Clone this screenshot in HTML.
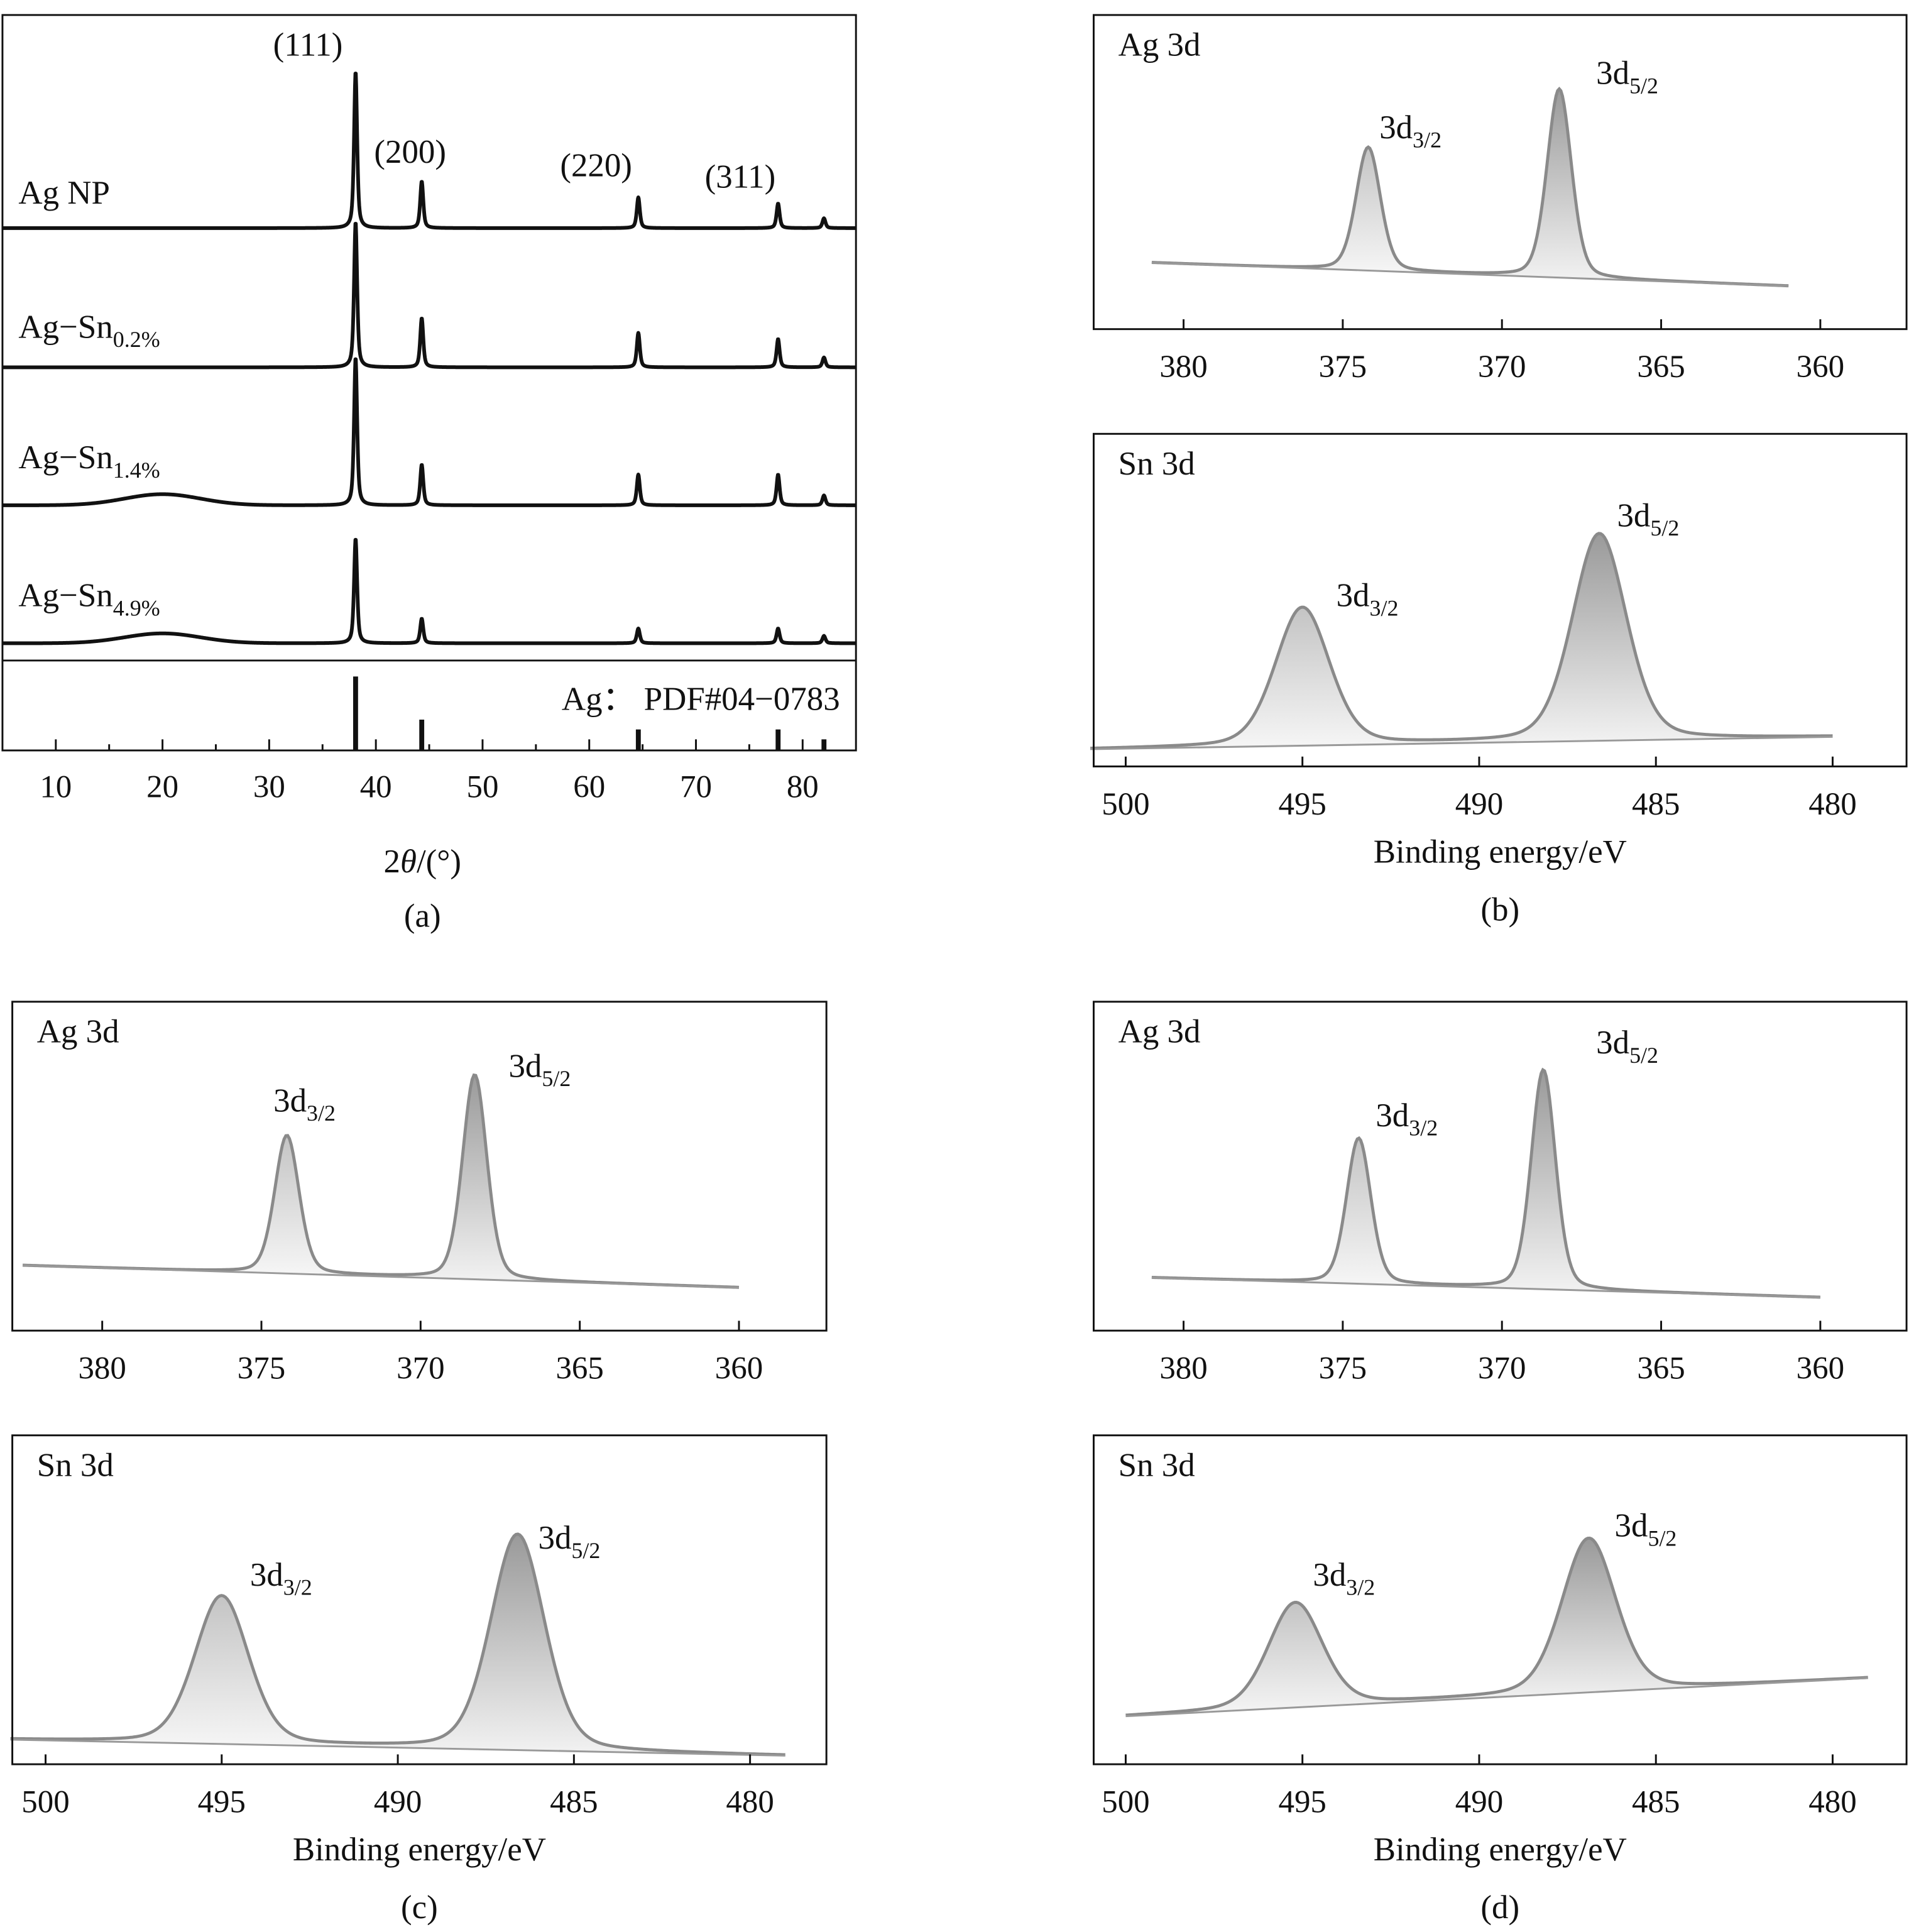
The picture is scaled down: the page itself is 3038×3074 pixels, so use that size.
<!DOCTYPE html>
<html><head><meta charset="utf-8"><style>
html,body{margin:0;padding:0;background:#fff}
svg{display:block}
text{font-family:"Liberation Serif",serif;fill:#111}
</style></head><body>
<svg id="fig" width="3038" height="3074" viewBox="0 0 1550 1568" xmlns="http://www.w3.org/2000/svg">
<defs>
<linearGradient id="gPeak" x1="0" y1="0" x2="0" y2="1"><stop offset="0" stop-color="#9a9a9a"/><stop offset="1" stop-color="#f2f2f2"/></linearGradient>
<linearGradient id="gPeakL" x1="0" y1="0" x2="0" y2="1"><stop offset="0" stop-color="#c4c4c4"/><stop offset="1" stop-color="#f6f6f6"/></linearGradient>
</defs>
<g id="root"></g>
</svg>
<script>
// ---- XRD data (panel a) ----
var xrdPeakPos = [38.1, 44.3, 64.6, 77.7, 82.0];
var xrdNames = ["Ag NP","Ag-Sn0.2","Ag-Sn1.4","Ag-Sn4.9"];
var xrdHeightsNP = [127, 38, 25, 20, 8];
var xrdHeights02 = [118, 40, 28, 23, 8];
var xrdHeights14 = [120, 33, 25, 25, 8];
var xrdHeights49 = [85, 20, 12, 12, 6];
var xrdHump = [0, 0, 9, 8];
var pdfPos = [38.1, 44.3, 64.6, 77.7, 82.0];
var pdfInt = [60, 25, 17, 17, 9];
var xrdTicks = [10,20,30,40,50,60,70,80];

// ---- XPS data ----
var agB_pos = [374.2, 368.2];   var agB_h = [100, 153];
var snB_pos = [495.0, 486.6];   var snB_h = [112, 168];
var agC_pos = [374.2, 368.3];   var agC_h = [112, 166];
var snC_pos = [495.0, 486.6];   var snC_h = [120, 175];
var agD_pos = [374.5, 368.7];   var agD_h = [118, 178];
var snD_pos = [495.2, 486.9];   var snD_h = [85, 125];
var agTicks = [380,375,370,365,360];
var snTicks = [500,495,490,485,480];

var NS="http://www.w3.org/2000/svg";
var root=null;
function mk(tag,attrs,parent){var e=document.createElementNS(NS,tag);for(var k in attrs)e.setAttribute(k,attrs[k]);(parent||root).appendChild(e);return e;}
function txt(s,x,y,size,anchor,parent,sub){var t=mk('text',{x:x,y:y,'font-size':size,'text-anchor':anchor||'start'},parent);t.appendChild(document.createTextNode(s));if(sub){var ts=mk('tspan',{'font-size':size*0.68,dy:size*0.28},t);ts.appendChild(document.createTextNode(sub));}return t;}
function pv(x,c,w,eta){if(eta===undefined)eta=0.6;var d=(x-c)/w;return eta/(1+d*d)+(1-eta)*Math.exp(-0.693*d*d);}

function drawXRD(){
  var g=mk('g',{});
  
  
  var X0=2,X1=695,Y0=12,Y1=609,d0=5,d1=85;
  function sx(v){return X0+(v-d0)/(d1-d0)*(X1-X0);}
  var heights=[xrdHeightsNP,xrdHeights02,xrdHeights14,xrdHeights49];
  var bases=[185,298,410,522];
  heights.forEach(function(hs,i){
    var p='';
    for(var v=d0;v<=d1;v+=0.04){
      var y=bases[i];
      for(var j=0;j<xrdPeakPos.length;j++){y-=hs[j]*pv(v,xrdPeakPos[j],0.17);}
      y-=xrdHump[i]*Math.exp(-Math.pow((v-20)/5,2));
      p+=(p?'L':'M')+sx(v).toFixed(2)+' '+y.toFixed(2);
    }
    var path=mk('path',{d:p,fill:'none',stroke:'#111','stroke-width':3,'stroke-linejoin':'round'},g);
    
    
  });
  pdfPos.forEach(function(c,j){
    var l=mk('line',{x1:sx(c),x2:sx(c),y1:Y1,y2:Y1-pdfInt[j],stroke:'#111','stroke-width':4},g);
    
    
  });
  mk('line',{x1:X0,x2:X1,y1:536,y2:536,stroke:'#111','stroke-width':1.5},g);
  var box=mk('rect',{x:X0,y:Y0,width:X1-X0,height:Y1-Y0,fill:'none',stroke:'#111','stroke-width':1.5},g);
  
  
  for(var v=10;v<=80;v+=5){mk('line',{x1:sx(v),x2:sx(v),y1:Y1,y2:Y1-(v%10?5:9),stroke:'#111','stroke-width':1.5},g);}
  xrdTicks.forEach(function(v){var t=txt(String(v),sx(v),647,26,'middle',g);});
  [['(111)',250,45],['(200)',333,132],['(220)',484,143],['(311)',601,152]].forEach(function(a){var t=txt(a[0],a[1],a[2],27,'middle',g);});
  txt('Ag NP',15,165,27,'start',g);
  txt('Ag\u2212Sn',15,274,27,'start',g,'0.2%');
  txt('Ag\u2212Sn',15,380,27,'start',g,'1.4%');
  txt('Ag\u2212Sn',15,492,27,'start',g,'4.9%');
  txt('Ag\uFF1A PDF#04\u22120783',682,576,27,'end',g);
  var xt=mk('text',{x:343,y:708,'font-size':27,'text-anchor':'middle'},g);
  
  
  var a1=mk('tspan',{},xt);a1.appendChild(document.createTextNode('2'));
  var a2=mk('tspan',{'font-style':'italic'},xt);a2.appendChild(document.createTextNode('\u03B8'));
  var a3=mk('tspan',{},xt);a3.appendChild(document.createTextNode('/(\u00B0)'));
  txt('(a)',343,752,27,'middle',g);
}

function xps(cfg){
  var g=mk('g',{});
  
  
  var ETA=0.25;
  function sx(v){return cfg.ax0+(cfg.t0-v)/(cfg.t0-cfg.t1)*(cfg.ax1-cfg.ax0);}
  function base(v){return cfg.b0+(v-cfg.c0)/(cfg.c1-cfg.c0)*(cfg.b1-cfg.b0);}
  var step=(cfg.c0-cfg.c1)/400;
  cfg.pos.forEach(function(c,j){
    var pts=[];
    for(var v=c+cfg.w*6;v>=c-cfg.w*6;v-=cfg.w/20){
      if(v>cfg.c0||v<cfg.c1)continue;
      pts.push([sx(v),base(v)-cfg.h[j]*pv(v,c,cfg.w,ETA)]);
    }
    if(!pts.length)return;
    var d='M'+pts.map(function(p){return p[0].toFixed(2)+' '+p[1].toFixed(2);}).join('L');
    var last=pts[pts.length-1],first=pts[0];
    var area=mk('path',{d:d+'L'+last[0].toFixed(2)+' '+base(c-cfg.w*6).toFixed(2)+'L'+first[0].toFixed(2)+' '+base(c+cfg.w*6).toFixed(2)+'Z',fill:(j?'url(#gPeak)':'url(#gPeakL)'),stroke:'none'},g);
    
    
  });
  var p='';
  for(var v=cfg.c0;v>=cfg.c1-1e-9;v-=step){
    var y=base(v);
    for(var j=0;j<cfg.pos.length;j++){y-=cfg.h[j]*pv(v,cfg.pos[j],cfg.w,ETA);}
    p+=(p?'L':'M')+sx(v).toFixed(2)+' '+y.toFixed(2);
  }
  var env=mk('path',{d:p,fill:'none',stroke:'#8a8a8a','stroke-width':2.5},g);
  
  
  var bl=mk('line',{x1:sx(cfg.c0),x2:sx(cfg.c1),y1:base(cfg.c0),y2:base(cfg.c1),stroke:'#999','stroke-width':1.5},g);
  
  
  var box=mk('rect',{x:cfg.X0,y:cfg.Y0,width:cfg.X1-cfg.X0,height:cfg.Y1-cfg.Y0,fill:'none',stroke:'#111','stroke-width':1.5},g);
  
  
  cfg.ticks.forEach(function(v){
    mk('line',{x1:sx(v),x2:sx(v),y1:cfg.Y1,y2:cfg.Y1-8,stroke:'#111','stroke-width':1.5},g);
    var t=txt(String(v),sx(v),cfg.Y1+39,26,'middle',g);
    
    
  });
  txt(cfg.title,cfg.X0+20,cfg.Y0+33,27,'start',g);
  txt('3d',cfg.l1[0],cfg.l1[1],27,'start',g,'3/2');
  txt('3d',cfg.l2[0],cfg.l2[1],27,'start',g,'5/2');
  if(cfg.xtitle){
    txt('Binding energy/eV',(cfg.X0+cfg.X1)/2,cfg.Y1+78,27,'middle',g);
    txt(cfg.panel,(cfg.X0+cfg.X1)/2,cfg.Y1+125,27,'middle',g);
  }
}
function ext(a,b){var o={};for(var k in a)o[k]=a[k];for(var k2 in b)o[k2]=b[k2];return o;}
function drawAll(){
  root=document.getElementById('root');
  if(!root){
    var svg=document.getElementById('fig');
    root=document.createElementNS(NS,'g');
    svg.appendChild(root);
  }
  var AG={t0:380,t1:360,w:0.45,ticks:agTicks,title:'Ag 3d'};
  var SN={t0:500,t1:480,w:0.9,ticks:snTicks,title:'Sn 3d'};
  var jobs=[
    function(){drawXRD();},
    function(){xps(ext(AG,{name:'xps-b-ag',X0:888,X1:1548,Y0:12,Y1:267,ax0:961,ax1:1478,c0:381,c1:361,b0:213,b1:232,pos:agB_pos,h:agB_h,l1:[1120,112],l2:[1296,68]}));},
    function(){xps(ext(SN,{name:'xps-b-sn',X0:888,X1:1548,Y0:352,Y1:622,ax0:914,ax1:1488,c0:501,c1:480,b0:608,b1:598,pos:snB_pos,h:snB_h,l1:[1085,492],l2:[1313,427],xtitle:1,panel:'(b)'}));},
    function(){xps(ext(AG,{name:'xps-c-ag',X0:10,X1:671,Y0:813,Y1:1080,ax0:83,ax1:600,c0:382.5,c1:360,b0:1027,b1:1045,pos:agC_pos,h:agC_h,l1:[222,902],l2:[413,874]}));},
    function(){xps(ext(SN,{name:'xps-c-sn',X0:10,X1:671,Y0:1165,Y1:1432,ax0:37,ax1:609,c0:501,c1:479,b0:1412,b1:1425,pos:snC_pos,h:snC_h,l1:[203,1287],l2:[437,1257],xtitle:1,panel:'(c)'}));},
    function(){xps(ext(AG,{name:'xps-d-ag',X0:888,X1:1548,Y0:813,Y1:1080,ax0:961,ax1:1478,c0:381,c1:360,b0:1037,b1:1053,pos:agD_pos,h:agD_h,l1:[1117,914],l2:[1296,855]}));},
    function(){xps(ext(SN,{name:'xps-d-sn',X0:888,X1:1548,Y0:1165,Y1:1432,ax0:914,ax1:1488,c0:500,c1:479,b0:1393,b1:1362,pos:snD_pos,h:snD_h,l1:[1066,1287],l2:[1311,1247],xtitle:1,panel:'(d)'}));}
  ];
  for(var i=0;i<jobs.length;i++){try{jobs[i]();}catch(e){}}
}
if(document.readyState==='loading'){document.addEventListener('DOMContentLoaded',drawAll);}else{drawAll();}
</script>
</body></html>
